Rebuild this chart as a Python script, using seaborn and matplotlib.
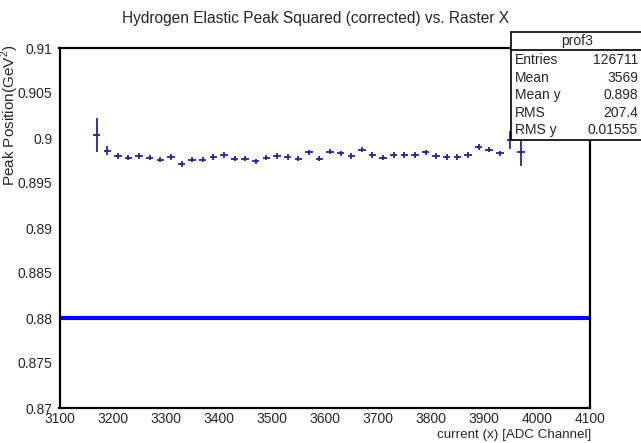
import numpy as np
import pandas as pd
import matplotlib
matplotlib.use("Agg")
import matplotlib.pyplot as plt
import seaborn as sns
from matplotlib.patches import Rectangle
from matplotlib.ticker import MultipleLocator, FuncFormatter

# ---- data ----
raster_x = [3170, 3190, 3210, 3230, 3250, 3270, 3290, 3310, 3330, 3350,
            3370, 3390, 3410, 3430, 3450, 3470, 3490, 3510, 3530, 3550,
            3570, 3590, 3610, 3630, 3650, 3670, 3690, 3710, 3730, 3750,
            3770, 3790, 3810, 3830, 3850, 3870, 3890, 3910, 3930, 3950,
            3970]
peak_pos = [0.9003, 0.8986, 0.8980, 0.8978, 0.8980, 0.8978, 0.8976, 0.8979, 0.8971, 0.8976,
            0.8976, 0.8979, 0.8981, 0.8977, 0.8977, 0.8974, 0.8978, 0.8980, 0.8979, 0.8977,
            0.8984, 0.8977, 0.8985, 0.8983, 0.8980, 0.8987, 0.8981, 0.8978, 0.8981, 0.8981,
            0.8981, 0.8984, 0.8980, 0.8979, 0.8979, 0.8981, 0.8990, 0.8987, 0.8983, 0.8998,
            0.8984]
peak_err = [0.0019, 0.0005, 0.0003, 0.0003, 0.0003, 0.0003, 0.0003, 0.0003, 0.0003, 0.0003,
            0.0003, 0.0003, 0.0003, 0.0003, 0.0003, 0.0003, 0.0003, 0.0003, 0.0003, 0.0003,
            0.0003, 0.0003, 0.0003, 0.0003, 0.0003, 0.0003, 0.0003, 0.0003, 0.0003, 0.0003,
            0.0003, 0.0003, 0.0003, 0.0003, 0.0003, 0.0003, 0.0003, 0.0003, 0.0003, 0.0010,
            0.0015]
reference_level = 0.88

stats_labels = ["Entries", "Mean", "Mean y", "RMS", "RMS y"]
stats_values = ["126711", "3569", "0.898", "207.4", "0.01555"]
stats_name = "prof3"

title = "Hydrogen Elastic Peak Squared (corrected) vs. Raster X"
xlabel = "current (x) [ADC Channel]"
ylabel = "Peak Position(GeV$^2$)"

# ---- figure ----
sns.set_style("white")
plt.rcParams["font.family"] = ["Liberation Sans", "DejaVu Sans"]
plt.rcParams["mathtext.fontset"] = "custom"
plt.rcParams["mathtext.rm"] = "Liberation Sans"

W, H = 641, 443
fig = plt.figure(figsize=(W / 100, H / 100), dpi=100)
ax = fig.add_axes([59.5 / W, 1 - 408 / H, (590 - 59.5) / W, (408 - 48) / H])

df = pd.DataFrame({"x": raster_x, "y": peak_pos, "err": peak_err})
mcol = "#25259a"
ax.errorbar(df["x"], df["y"], yerr=df["err"], xerr=7, fmt="none",
            ecolor=mcol, elinewidth=1.3, capsize=0, zorder=3)
sns.scatterplot(data=df, x="x", y="y", ax=ax, color=mcol, s=3,
                edgecolor="none", zorder=4, legend=False)

ax.axhline(reference_level, color="#0000ff", lw=3, zorder=2)

ax.set_xlim(3100, 4100)
ax.set_ylim(0.87, 0.91)
ax.xaxis.set_major_locator(MultipleLocator(100))
ax.xaxis.set_minor_locator(MultipleLocator(20))
ax.yaxis.set_major_locator(MultipleLocator(0.005))
ax.yaxis.set_minor_locator(MultipleLocator(0.001))
ax.yaxis.set_major_formatter(FuncFormatter(lambda v, p: "%g" % round(v, 4)))
ax.tick_params(axis="both", which="both", direction="in", top=False, right=False,
               labelsize=10, color="black")
ax.tick_params(axis="x", which="major", pad=3)
ax.tick_params(axis="y", which="major", pad=5)
ax.tick_params(axis="both", which="major", length=11, width=1.2)
ax.tick_params(axis="both", which="minor", length=6, width=1.0)
for s in ax.spines.values():
    s.set_color("black")
    s.set_linewidth(1.6)

ax.set_xlabel("")
ax.set_ylabel("")
fig.text(591 / W, 1 - 435 / H, xlabel, ha="right", va="center", fontsize=9.6)
fig.text(10 / W, 1 - 44 / H, ylabel, ha="center", va="top", rotation=90, fontsize=11)
fig.text(316 / W, 1 - 18 / H, title, ha="center", va="center", fontsize=11.2)

# stats box (ROOT style)
box_l, box_r, box_t, box_b, hdr = 511, 645, 32, 140, 50
fig.patches.append(Rectangle((box_l / W, 1 - box_b / H), (box_r - box_l) / W,
                             (box_b - box_t) / H, transform=fig.transFigure,
                             facecolor="white", edgecolor="black", lw=1.2, zorder=10))
fig.lines.append(plt.Line2D([box_l / W, box_r / W], [1 - hdr / H, 1 - hdr / H],
                            transform=fig.transFigure, color="black", lw=1.2, zorder=11))
fig.text(577 / W, 1 - 41 / H, stats_name, ha="center", va="center",
         fontsize=10, zorder=12)
row_y = [60, 78, 95, 113, 130]
for lab, val, yy in zip(stats_labels, stats_values, row_y):
    fig.text(515 / W, 1 - yy / H, lab, ha="left", va="center", fontsize=10, zorder=12)
    fig.text(638 / W, 1 - yy / H, val, ha="right", va="center", fontsize=10, zorder=12)

fig.savefig("out.png", dpi=100, facecolor="white")
